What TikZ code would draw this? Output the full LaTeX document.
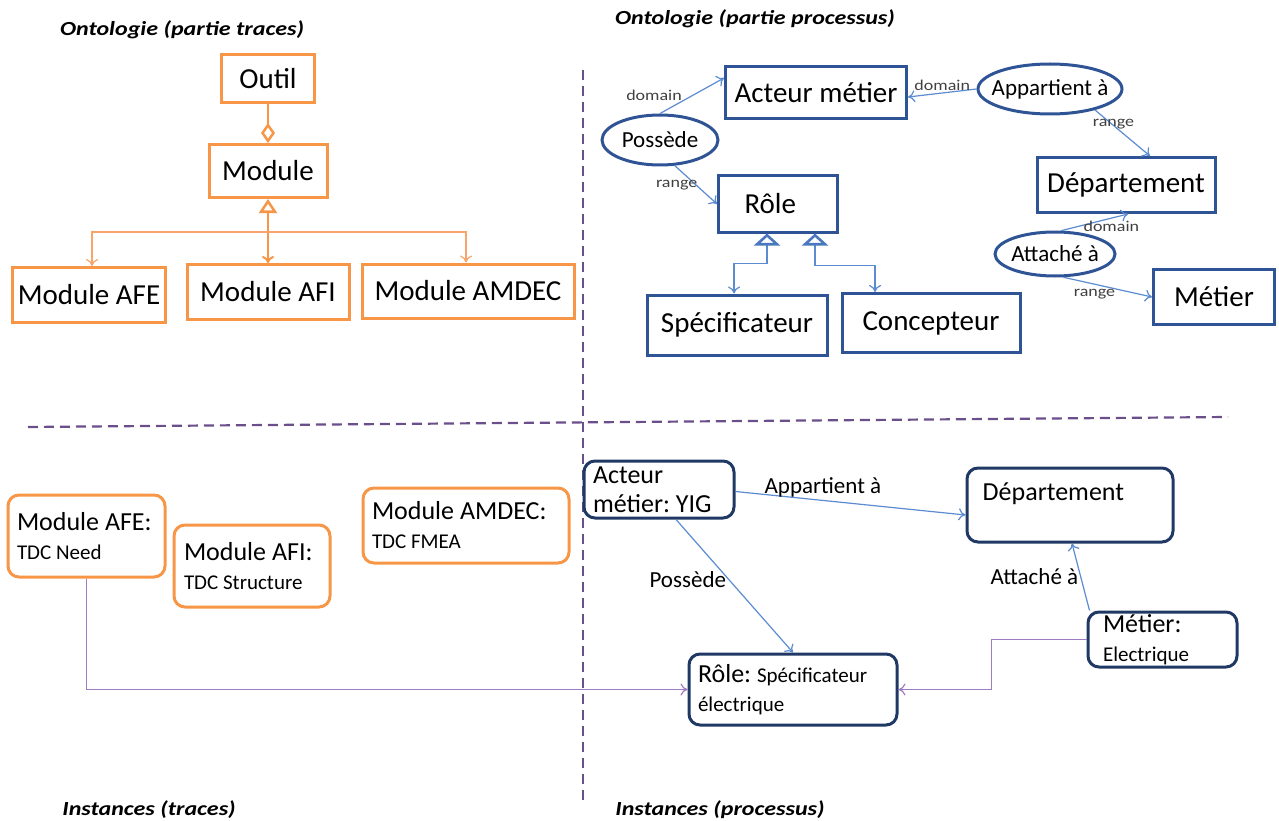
\documentclass[tikz,border=0pt]{standalone}
\usepackage{fontspec}
\setmainfont{Carlito}
\newfontfamily\widefont[FakeStretch=1.2]{Carlito}
\usetikzlibrary{arrows.meta,shapes.geometric}
\definecolor{ontoOrange}{HTML}{F79646}
\definecolor{lightOrange}{HTML}{F8A46A}
\definecolor{darkBlue}{HTML}{2F5496}
\definecolor{navyBlue}{HTML}{1F3864}
\definecolor{linkBlue}{HTML}{5B8BD0}
\definecolor{triBlue}{HTML}{4A78BE}
\definecolor{linkPurple}{HTML}{9E7CC1}
\definecolor{sepPurple}{HTML}{6A4F8A}
\newcommand{\boxfont}{\fontsize{29}{34}\selectfont}
\newcommand{\ellfont}{\fontsize{23}{27}\selectfont}
\newcommand{\bigtxt}{\fontsize{26}{29}\selectfont}
\newcommand{\smtxt}{\fontsize{21}{27}\selectfont}
\newcommand{\tagfont}{\widefont\fontsize{15}{18}\selectfont}
\newcommand{\titlefont}{\widefont\bfseries\itshape\fontsize{20}{24}\selectfont}
\frenchspacing

\begin{document}
\begin{tikzpicture}[x=1pt, y=-1pt,
  tbox/.style={draw=ontoOrange, line width=3pt, font=\boxfont, inner sep=0pt},
  pbox/.style={draw=darkBlue, line width=3pt, font=\boxfont, inner sep=0pt},
  prop/.style={ellipse, draw=darkBlue, line width=3pt, inner sep=0pt,
    label={[font=\ellfont]center:#1}},
  ibox/.style={draw=ontoOrange, line width=3pt, rounded corners=11pt,
    align=flush left, font=\bigtxt, inner ysep=0pt},
  jbox/.style={ibox, draw=navyBlue},
  tag/.style={font=\tagfont, text=black!75, inner sep=1pt},
  rel/.style={font=\ellfont, text=black, inner sep=2pt},
  arr/.style={-{To[length=7pt,width=12pt]}},
  bline/.style={linkBlue, line width=1.2pt, arr},
  pline/.style={linkPurple, line width=1.2pt, arr},
  sep/.style={sepPurple, line width=2.2pt, dash pattern=on 10pt off 6pt},
  title/.style={font=\titlefont}]
  \useasboundingbox (0,0) rectangle (1279,821);

  \node[title] (t1) at (182,30) {Ontologie (partie traces)};
  \node[title] (t2) at (755,19) {Ontologie (partie processus)};
  \node[title] (t3) at (149,810) {Instances (traces)};
  \node[title] (t4) at (720,810) {Instances (processus)};

  \draw[sep] (583,70) -- (583,805);
  \draw[sep] (28,427) -- (1228,417);

  \node[tbox, minimum width=93pt, minimum height=48pt] (outil) at (268,79) {Outil};
  \node[tbox, minimum width=118pt, minimum height=53pt] (module) at (268,171) {Module};
  \node[tbox, minimum width=153pt, minimum height=55pt] (afe) at (89,295) {Module AFE};
  \node[tbox, minimum width=162pt, minimum height=55pt] (afi) at (268,292) {Module AFI};
  \node[tbox, minimum width=212pt, minimum height=54pt] (amdec) at (468,291) {Module AMDEC};

  \draw[ontoOrange, line width=1.5pt,
    -{Diamond[open, length=20pt, width=14pt, line width=2.5pt]}] (outil) -- (module);
  \coordinate (fork) at (268,232);
  \draw[ontoOrange, line width=2pt,
    {Triangle[open, length=14pt, width=18pt, line width=2.5pt]}-{To[length=7pt,width=12pt]}]
    (module.south) -- (afi.north);
  \draw[lightOrange, line width=1.2pt, arr] (fork) -| ([xshift=3pt]afe.north);
  \draw[lightOrange, line width=1.2pt, arr] (fork) -| ([xshift=-2pt]amdec.north);

  \node[pbox, minimum width=181pt, minimum height=52pt] (acteur) at (816,93) {Acteur métier};
  \node[prop=Appartient à, minimum width=144pt, minimum height=50pt] (appart) at (1050,89) {};
  \node[prop=Possède, minimum width=116pt, minimum height=50pt] (possede) at (660,140) {};
  \node[pbox, minimum height=56pt, text width=67pt, align=left, inner xsep=26pt] (role) at (778,204) {Rôle};
  \node[pbox, minimum width=180pt, minimum height=60pt] (specif) at (737,325) {Spécificateur};
  \node[pbox, minimum width=178pt, minimum height=59pt] (concep) at (931,323) {Concepteur};
  \node[pbox, minimum width=178pt, minimum height=55pt] (dept) at (1126,185) {Département};
  \node[prop=Attaché à, minimum width=120pt, minimum height=44pt] (attache) at (1055,254) {};
  \node[pbox, minimum width=121pt, minimum height=55pt] (metier) at (1214,297) {Métier};

  \draw[bline] (possede.north) -- ([yshift=15pt]acteur.west)
    node[tag, pos=0.35, above left=-1pt] {domain};
  \draw[bline] (possede.-60) -- (role.west) node[tag, midway, left=-3pt] {range};
  \draw[bline] (appart.west) -- ([yshift=-4pt]acteur.east) node[tag, midway, above=1pt] {domain};
  \draw[bline] (appart.-25) -- ([xshift=24pt]dept.north) node[tag, pos=0.3, xshift=2pt] {range};
  \draw[bline] (attache.75) -- ([xshift=2pt]dept.south) node[tag, pos=0.75, below=1pt] {domain};
  \draw[bline] (attache.-70) -- (metier.west) node[tag, pos=0.35, below=3pt] {range};
  \draw[linkBlue, line width=1.2pt,
    {Triangle[open, length=12pt, width=26pt, line width=2.6pt, color=triBlue]}-{To[length=7pt,width=12pt]}]
    ([xshift=-11pt]role.south) -- ++(0,30) -| ([xshift=-3pt]specif.north);
  \draw[linkBlue, line width=1.2pt,
    {Triangle[open, length=12pt, width=26pt, line width=2.6pt, color=triBlue]}-{To[length=7pt,width=12pt]}]
    ([xshift=37pt]role.south) -- ++(0,32) -| ([xshift=-56pt]concep.north);

  \node[ibox, minimum height=82pt, text width=139pt, inner xsep=9pt] (afeI) at (86.5,536)
    {Module AFE:\\\smtxt TDC Need};
  \node[ibox, minimum height=82pt, text width=136pt, inner xsep=10pt] (afiI) at (252,566)
    {Module AFI:\\\smtxt TDC Structure};
  \node[ibox, minimum height=75pt, text width=188pt, inner xsep=9pt] (amdecI) at (466,525.5)
    {Module AMDEC:\\\smtxt TDC FMEA};

  \node[jbox, minimum height=57pt, text width=132pt, inner xsep=9pt] (acteurI) at (659,489.5)
    {Acteur\\métier: YIG};
  \node[jbox, minimum width=206pt, minimum height=74pt,
    label={[font=\bigtxt, anchor=north west, inner sep=0pt, xshift=17pt, yshift=-16pt]north west:Département}]
    (deptI) at (1070,505) {};
  \node[jbox, minimum height=71pt, text width=190pt, inner xsep=9pt] (roleI) at (793,689.5)
    {Rôle: {\smtxt Spécificateur}\\\smtxt électrique};
  \node[jbox, minimum height=55pt, text width=119pt, inner xsep=15pt] (metierI) at (1162.5,639.5)
    {Métier:\\\smtxt Electrique};

  \draw[bline] ([yshift=-2pt]acteurI.east) -- ([yshift=-10pt]deptI.west)
    node[rel, pos=0.38, above=1pt] {Appartient à};
  \draw[bline] ([xshift=17pt]acteurI.south) -- (roleI.north) node[rel, pos=0.45, left] {Possède};
  \draw[bline] ([xshift=3pt]metierI.north west) -- ([xshift=2pt]deptI.south)
    node[rel, midway, left] {Attaché à};
  \draw[pline] (afeI.south) |- (roleI.west);
  \draw[pline] (metierI.west) -- ++(-95,0) |- (roleI.east);
\end{tikzpicture}
\end{document}
